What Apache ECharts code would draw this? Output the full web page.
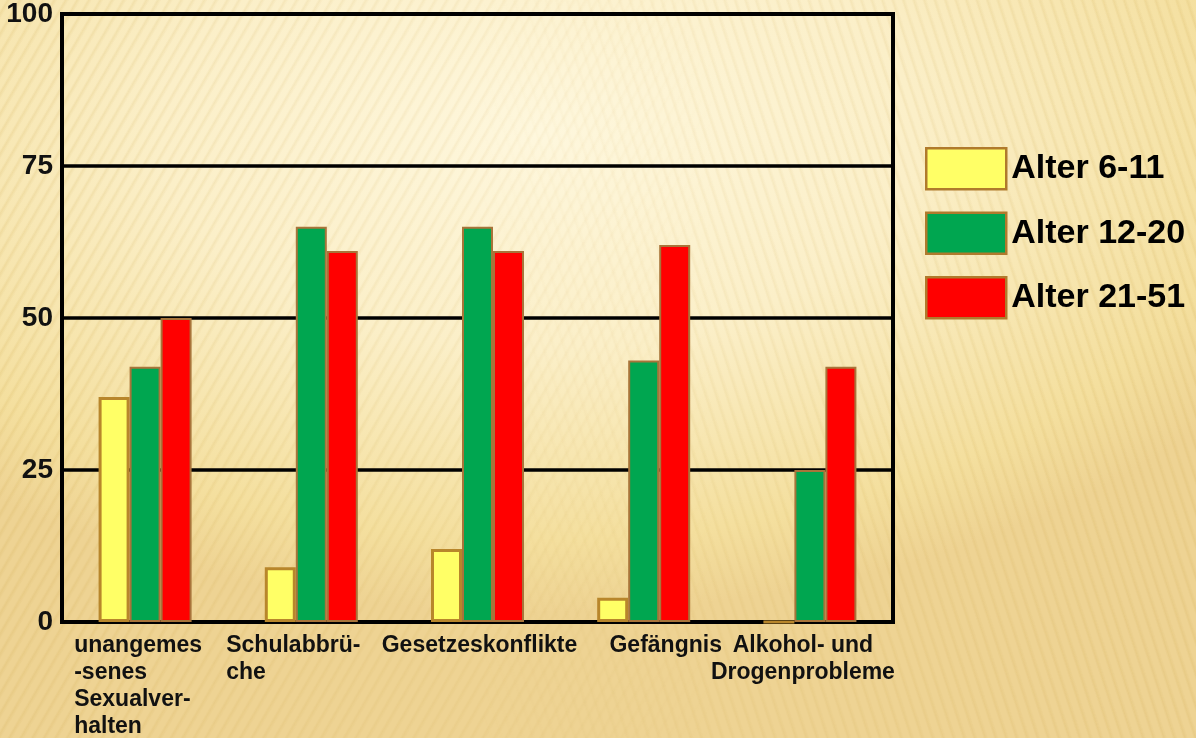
<!DOCTYPE html>
<html>
<head>
<meta charset="utf-8">
<title>Alter</title>
<script src="https://cdn.jsdelivr.net/npm/echarts@6/dist/echarts.min.js"></script>
<style>
  html, body { margin: 0; padding: 0; width: 1196px; height: 738px; overflow: hidden; }
  body {
    position: relative;
    background:
      radial-gradient(ellipse 70% 65% at 45% 18%, #fef7dd 0%, #fbefc8 45%, #f4df9e 85%, #eed393 100%);
  }
  .stripes {
    position: absolute; left: 0; top: 0; width: 1196px; height: 738px; pointer-events: none;
  }
  .stripes.left {
    background: repeating-linear-gradient(120deg, rgba(210,170,80,0.0) 0px, rgba(210,170,80,0.0) 5px, rgba(205,165,70,0.16) 7px, rgba(210,170,80,0.0) 10px);
    -webkit-mask-image: linear-gradient(to right, #000 0%, rgba(0,0,0,0.6) 40%, transparent 60%);
    mask-image: linear-gradient(to right, #000 0%, rgba(0,0,0,0.6) 40%, transparent 60%);
  }
  .stripes.right {
    background: repeating-linear-gradient(72deg, rgba(210,170,80,0.0) 0px, rgba(210,170,80,0.0) 5px, rgba(205,165,70,0.16) 7px, rgba(210,170,80,0.0) 10px);
    -webkit-mask-image: linear-gradient(to left, #000 0%, rgba(0,0,0,0.6) 40%, transparent 60%);
    mask-image: linear-gradient(to left, #000 0%, rgba(0,0,0,0.6) 40%, transparent 60%);
  }
  #chart { position: absolute; left: 0; top: 0; width: 1196px; height: 738px; }
</style>
</head>
<body>
<div class="stripes left"></div>
<div class="stripes right"></div>
<div id="chart"></div>
<script>
// Categories (line breaks as hyphenated on the axis)
const categories = [
  'unangemes\n-senes\nSexualver-\nhalten',
  'Schulabbrü-\nche',
  'Gesetzeskonflikte',
  'Gefängnis',
  'Alkohol- und\nDrogenprobleme'
];

// Percentages per age group
const alter6_11  = [37, 9, 12, 4, 0];
const alter12_20 = [42, 65, 65, 43, 25];
const alter21_51 = [50, 61, 61, 62, 42];

const seriesNames = ['Alter 6-11', 'Alter 12-20', 'Alter 21-51'];
const yTicks = { min: 0, max: 100, interval: 25 };

const FONT = "'Liberation Sans', Arial, Helvetica, sans-serif";

// Per-category label styling: line alignment and a small horizontal nudge (padding)
const labelStyles = [
  { align: 'left',   padding: [0, 14, 0, 0] },
  { align: 'left',   padding: [0, 36, 0, 0] },
  { align: 'center', padding: [0, 0, 0, 4] },
  { align: 'center', padding: [0, 0, 0, 44] },
  { align: 'center', padding: [0, 14, 0, 0] }
];

const rich = {};
labelStyles.forEach((s, i) => {
  rich['k' + i] = {
    align: s.align, padding: s.padding,
    fontFamily: FONT, fontSize: 23, fontWeight: 'bold', color: '#111', lineHeight: 27
  };
});

const chart = echarts.init(document.getElementById('chart'), null, { renderer: 'canvas' });

function barSeries(name, data, color, border, bw) {
  return {
    name: name,
    type: 'bar',
    data: data,
    barWidth: 31,
    barGap: '0%',
    itemStyle: { color: color, borderColor: border, borderWidth: bw },
    emphasis: { disabled: true }
  };
}

chart.setOption({
  backgroundColor: 'transparent',
  animation: false,
  grid: {
    left: 62, right: 303, top: 14, bottom: 114,
    show: true, borderColor: '#000', borderWidth: 4, backgroundColor: 'transparent'
  },
  legend: {
    orient: 'vertical',
    left: 925,
    top: 147,
    padding: 0,
    itemWidth: 80,
    itemHeight: 41,
    itemGap: 21,
    icon: 'rect',
    itemStyle: { borderColor: '#b07a2c', borderWidth: 2.5 },
    textStyle: { fontFamily: FONT, fontSize: 34, fontWeight: 'bold', color: '#000' },
    data: seriesNames
  },
  xAxis: {
    type: 'category',
    data: categories,
    axisLine: { show: true, lineStyle: { color: '#000', width: 4 } },
    axisTick: { show: false },
    axisLabel: {
      interval: 0,
      margin: 10,
      formatter: function (value, idx) {
        return value.split('\n').map(s => '{k' + idx + '|' + s + '}').join('\n');
      },
      rich: rich
    }
  },
  yAxis: {
    type: 'value',
    min: yTicks.min,
    max: yTicks.max,
    interval: yTicks.interval,
    axisLine: { show: true, lineStyle: { color: '#000', width: 4 } },
    axisTick: { show: false },
    splitLine: { show: true, lineStyle: { color: '#000', width: 3.5 } },
    axisLabel: { margin: 9, fontFamily: FONT, fontSize: 28, fontWeight: 'bold', color: '#111' }
  },
  series: [
    barSeries(seriesNames[0], alter6_11, '#ffff66', '#b8862b', 3),
    barSeries(seriesNames[1], alter12_20, '#00a650', '#a8743a', 2),
    barSeries(seriesNames[2], alter21_51, '#ff0000', '#a8743a', 2)
  ]
});
</script>
</body>
</html>
